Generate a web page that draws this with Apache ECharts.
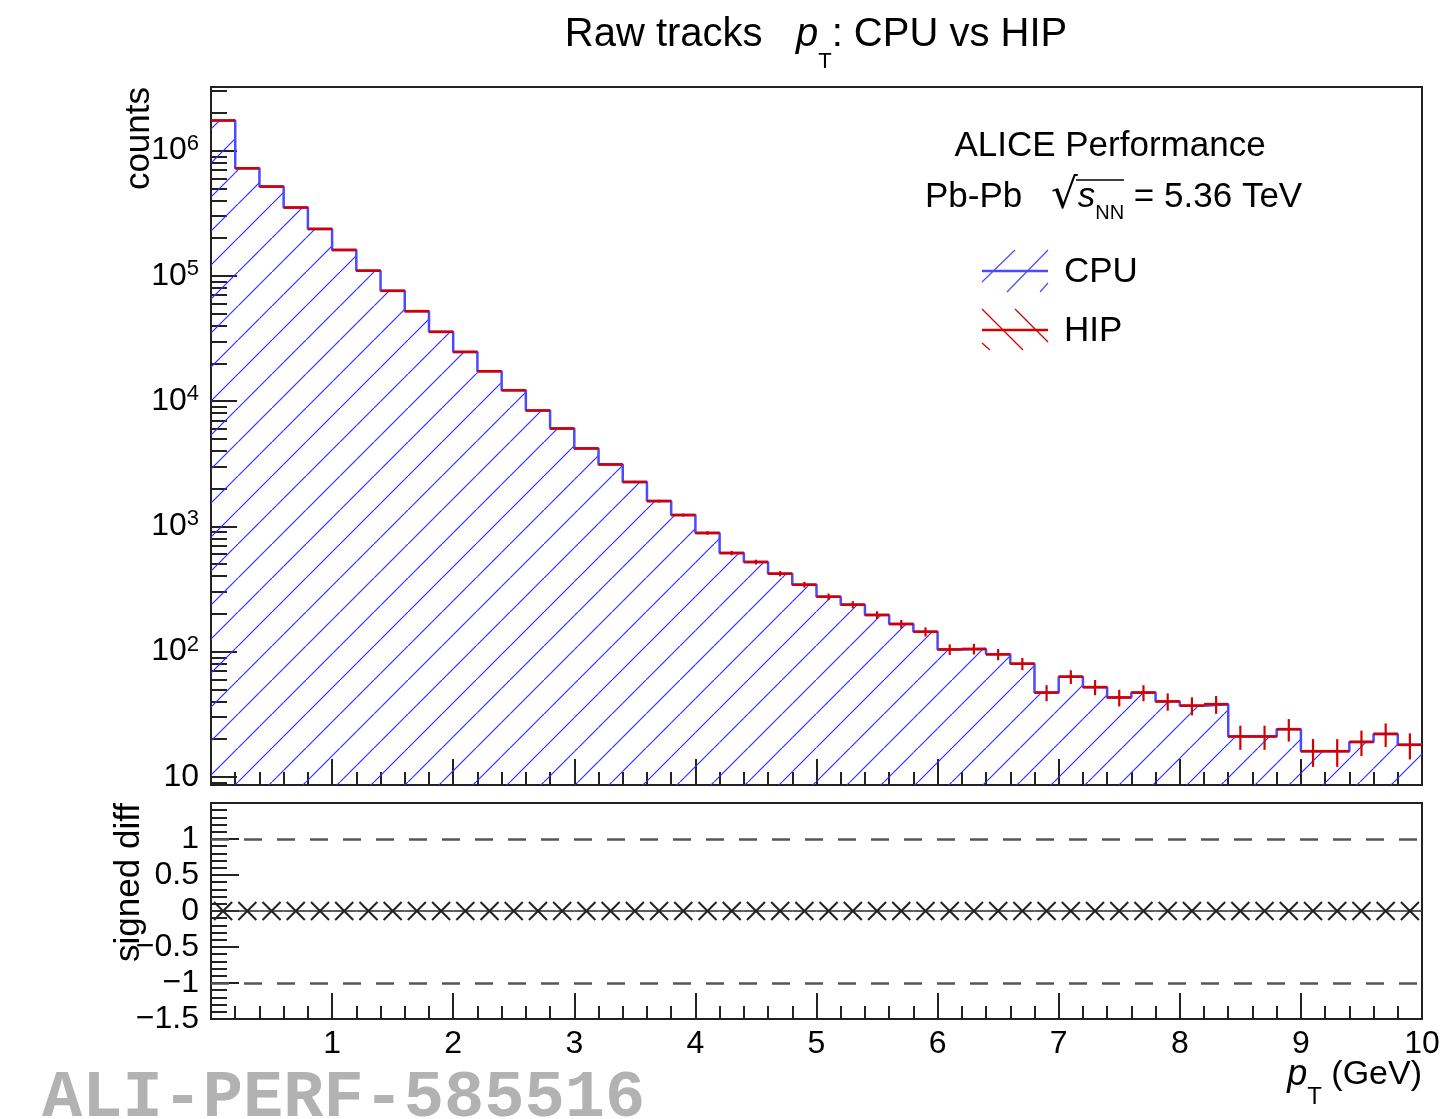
<!DOCTYPE html>
<html>
<head>
<meta charset="utf-8">
<title>Raw tracks pT: CPU vs HIP</title>
<script src="https://cdn.jsdelivr.net/npm/echarts@6.0.0/dist/echarts.min.js"></script>
<style>
html,body{margin:0;padding:0;background:#fff;}
#chart{width:1450px;height:1119px;}
</style>
</head>
<body>
<div id="chart"></div>
<script>
// ---------------- data ----------------
// bin edges in pT (GeV), 50 bins of 0.2 GeV
const binEdges = [0.0,0.2,0.4,0.6,0.8,1.0,1.2,1.4,1.6,1.8,2.0,2.2,2.4,2.6,2.8,3.0,3.2,3.4,3.6,3.8,
  4.0,4.2,4.4,4.6,4.8,5.0,5.2,5.4,5.6,5.8,6.0,6.2,6.4,6.6,6.8,7.0,7.2,7.4,7.6,7.8,
  8.0,8.2,8.4,8.6,8.8,9.0,9.2,9.4,9.6,9.8,10.0];
// CPU raw track counts per bin
const cpuCounts = [1740000,722000,516000,351000,237000,161000,110000,75900,52200,35700,
  24700,17300,12200,8410,6040,4190,3120,2260,1590,1230,
  885,612,519,419,342,274,237,196,166,144,
  104,105,95,80,47,63,52,43,47,40,
  37,38,21,21,24,16,16,19,22,18];
// HIP raw track counts per bin (identical to CPU)
const hipCounts = [1740000,722000,516000,351000,237000,161000,110000,75900,52200,35700,
  24700,17300,12200,8410,6040,4190,3120,2260,1590,1230,
  885,612,519,419,342,274,237,196,166,144,
  104,105,95,80,47,63,52,43,47,40,
  37,38,21,21,24,16,16,19,22,18];
// signed difference per bin
const signedDiff = [0,0,0,0,0,0,0,0,0,0,0,0,0,0,0,0,0,0,0,0,0,0,0,0,0,
  0,0,0,0,0,0,0,0,0,0,0,0,0,0,0,0,0,0,0,0,0,0,0,0,0];
// tick values / labels
const yMajorTicks = [10,100,1000,10000,100000,1000000];
const yMinorTicks = [9,20,30,40,50,60,70,80,90,200,300,400,500,600,700,800,900,
  2000,3000,4000,5000,6000,7000,8000,9000,20000,30000,40000,50000,60000,70000,80000,90000,
  200000,300000,400000,500000,600000,700000,800000,900000,2000000,3000000];
const diffRefLines = [1, -1];

// ---------------- styling ----------------
const FONT = '"Liberation Sans", Arial, Helvetica, sans-serif';
const Y_MIN = 8.6, Y_MAX = 3.22e6;
const AX = {color: '#222', width: 2};
const BLUE = '#4a4aff', RED = '#d40000';

function makeHatch(color, forward) {
  const s = 34;
  const c = document.createElement('canvas');
  c.width = s; c.height = s;
  const g = c.getContext('2d');
  g.strokeStyle = color; g.lineWidth = 1.2;
  g.beginPath();
  if (forward) { g.moveTo(-3, s + 3); g.lineTo(s + 3, -3); }
  else { g.moveTo(-3, -3); g.lineTo(s + 3, s + 3); }
  g.stroke();
  return c;
}
const cpuHatch = makeHatch('#2f2fff', true);

const cpuFillData = cpuCounts.map((v, i) => [binEdges[i], binEdges[i + 1], v]);
const cpuLineData = binEdges.map((e, i) => [e, cpuCounts[Math.min(i, cpuCounts.length - 1)]]);
// Poisson uncertainty of the HIP counts
const hipData = hipCounts.map((v, i) => [binEdges[i], binEdges[i + 1], v, Math.sqrt(v)]);
const diffData = signedDiff.map((v, i) => [binEdges[i], binEdges[i + 1], v]);

const chart = echarts.init(document.getElementById('chart'), null, {renderer: 'canvas', width: 1450, height: 1119});

function xAxisCfg(gridIndex, showLabels) {
  return {
    gridIndex: gridIndex, type: 'value', min: 0, max: 10, interval: 1,
    axisLine: {show: true, onZero: false, lineStyle: AX},
    axisTick: {show: true, inside: true, length: 26, lineStyle: AX},
    minorTick: {show: true, splitNumber: 5, length: 13, lineStyle: AX},
    splitLine: {show: false}, minorSplitLine: {show: false},
    axisLabel: {show: showLabels, fontSize: 32, color: '#000', fontFamily: FONT, margin: 9,
      formatter: v => (v === 0 ? '' : String(v))}
  };
}

const option = {
  animation: false,
  backgroundColor: '#fff',
  grid: [
    {left: 211, top: 87, width: 1211, height: 698, show: true, borderColor: '#222', borderWidth: 2,
     backgroundColor: 'transparent', containLabel: false, outerBoundsMode: 'none'},
    {left: 211, top: 803, width: 1211, height: 216, show: true, borderColor: '#222', borderWidth: 2,
     backgroundColor: 'transparent', containLabel: false, outerBoundsMode: 'none'}
  ],
  xAxis: [xAxisCfg(0, false), xAxisCfg(1, true)],
  yAxis: [
    {gridIndex: 0, type: 'log', logBase: 10, min: Y_MIN, max: Y_MAX, position: 'left',
     axisLine: {show: true, onZero: false, lineStyle: AX},
     axisTick: {show: true, inside: true, length: 26, lineStyle: AX, customValues: yMajorTicks},
     minorTick: {show: false}, splitLine: {show: false},
     axisLabel: {show: true, customValues: yMajorTicks, margin: 12, color: '#000',
       formatter: function (v) {
         const n = Math.round(Math.log10(v));
         return n === 1 ? '{b|10}' : '{b|10}{s|' + n + '}';
       },
       rich: {
         b: {fontSize: 32, lineHeight: 36, fontFamily: FONT, color: '#000'},
         s: {fontSize: 22, verticalAlign: 'top', fontFamily: FONT, color: '#000'}
       }}},
    {gridIndex: 0, type: 'log', logBase: 10, min: Y_MIN, max: Y_MAX, position: 'left',
     axisLine: {show: false, onZero: false},
     axisTick: {show: true, inside: true, length: 16, lineStyle: AX, customValues: yMinorTicks},
     axisLabel: {show: false}, splitLine: {show: false}},
    {gridIndex: 1, type: 'value', min: -1.5, max: 1.5, interval: 0.5, position: 'left',
     axisLine: {show: true, onZero: false, lineStyle: AX},
     axisTick: {show: true, inside: true, length: 28, lineStyle: AX},
     minorTick: {show: true, splitNumber: 5, length: 16, lineStyle: AX},
     splitLine: {show: false}, minorSplitLine: {show: false},
     axisLabel: {show: true, fontSize: 32, color: '#000', fontFamily: FONT, margin: 12,
       formatter: v => (v > 1.4 ? '' : (v < 0 ? '\u2212' + Math.abs(v) : String(v)))}}
  ],
  series: [
    {
      name: 'CPU fill', type: 'custom', xAxisIndex: 0, yAxisIndex: 0, clip: true, z: 1,
      data: cpuFillData, encode: {x: [0, 1], y: 2},
      renderItem: function (params, api) {
        const p0 = api.coord([api.value(0), api.value(2)]);
        const p1 = api.coord([api.value(1), Y_MIN]);
        return {type: 'rect', shape: {x: p0[0], y: p0[1], width: p1[0] - p0[0], height: p1[1] - p0[1]},
          style: {fill: {image: cpuHatch, repeat: 'repeat'}, stroke: null}};
      }
    },
    {
      name: 'CPU', type: 'line', xAxisIndex: 0, yAxisIndex: 0, step: 'end', z: 2,
      showSymbol: false, symbol: 'none', clip: true,
      data: cpuLineData,
      lineStyle: {color: BLUE, width: 2.5}
    },
    {
      name: 'HIP', type: 'custom', xAxisIndex: 0, yAxisIndex: 0, clip: true, z: 3,
      data: hipData, encode: {x: [0, 1], y: 2},
      renderItem: function (params, api) {
        const x0 = api.value(0), x1 = api.value(1), v = api.value(2), e = api.value(3);
        const a = api.coord([x0, v]), b = api.coord([x1, v]);
        const xc = (x0 + x1) / 2;
        const lo = api.coord([xc, Math.max(v - e, Y_MIN)]), hi = api.coord([xc, v + e]);
        return {type: 'group', children: [
          {type: 'line', shape: {x1: a[0], y1: a[1], x2: b[0], y2: b[1]}, style: {stroke: RED, lineWidth: 2.6}},
          {type: 'line', shape: {x1: lo[0], y1: lo[1], x2: hi[0], y2: hi[1]}, style: {stroke: RED, lineWidth: 2.2}}
        ]};
      }
    },
    {
      name: 'signed diff', type: 'custom', xAxisIndex: 1, yAxisIndex: 2, clip: true, z: 3,
      data: diffData, encode: {x: [0, 1], y: 2},
      renderItem: function (params, api) {
        const x0 = api.value(0), x1 = api.value(1), v = api.value(2);
        const a = api.coord([x0, v]), b = api.coord([x1, v]);
        const c = api.coord([(x0 + x1) / 2, v]);
        const dx = 9, dy = 9;
        return {type: 'group', children: [
          {type: 'line', shape: {x1: a[0], y1: a[1], x2: b[0], y2: b[1]}, style: {stroke: '#333', lineWidth: 1.6}},
          {type: 'line', shape: {x1: c[0] - dx, y1: c[1] - dy, x2: c[0] + dx, y2: c[1] + dy}, style: {stroke: '#222', lineWidth: 2}},
          {type: 'line', shape: {x1: c[0] - dx, y1: c[1] + dy, x2: c[0] + dx, y2: c[1] - dy}, style: {stroke: '#222', lineWidth: 2}}
        ]};
      },
      markLine: {
        silent: true, symbol: 'none', label: {show: false},
        lineStyle: {color: '#555', type: [18, 15], width: 2.5},
        data: diffRefLines.map(y => ({yAxis: y}))
      }
    }
  ],
  graphic: [
    // title
    {type: 'text', x: 816, y: 35, z: 10, style: {
      text: 'Raw tracks   {i|p}{sub|T}: CPU vs HIP', fontSize: 40, fontFamily: FONT, fill: '#000',
      align: 'center', verticalAlign: 'middle',
      rich: {i: {fontSize: 40, fontStyle: 'italic', fontFamily: FONT, fill: '#000'},
             sub: {fontSize: 22, lineHeight: 76, verticalAlign: 'bottom', fontFamily: FONT, fill: '#000'}}}},
    // axis titles
    {type: 'text', x: 139, y: 87, rotation: Math.PI / 2, z: 10, style: {
      text: 'counts', fontSize: 35, fontFamily: FONT, fill: '#000', align: 'right', verticalAlign: 'middle'}},
    {type: 'text', x: 129, y: 803, rotation: Math.PI / 2, z: 10, style: {
      text: 'signed diff', fontSize: 35, fontFamily: FONT, fill: '#000', align: 'right', verticalAlign: 'middle'}},
    {type: 'text', x: 1422, y: 1075, z: 10, style: {
      text: '{i|p}{sub|T} (GeV)', fontSize: 34, fontFamily: FONT, fill: '#000', align: 'right', verticalAlign: 'middle',
      rich: {i: {fontSize: 36, fontStyle: 'italic', fontFamily: FONT, fill: '#000'},
             sub: {fontSize: 24, lineHeight: 68, verticalAlign: 'bottom', fontFamily: FONT, fill: '#000'}}}},
    // ALICE labels
    {type: 'text', x: 1110, y: 146, z: 10, style: {
      text: 'ALICE Performance', fontSize: 35, fontFamily: FONT, fill: '#000', align: 'center', verticalAlign: 'middle'}},
    {type: 'text', x: 925, y: 197.5, z: 10, style: {
      text: 'Pb-Pb', fontSize: 35, fontFamily: FONT, fill: '#000', align: 'left', verticalAlign: 'middle'}},
    {type: 'text', x: 1051, y: 197.5, z: 10, style: {
      text: '{r|\u221A}{si|s}{sub|NN} = 5.36 TeV', fontSize: 35, fontFamily: FONT, fill: '#000', align: 'left', verticalAlign: 'middle',
      rich: {r: {fontSize: 42, fontFamily: '"DejaVu Sans", sans-serif', fill: '#000'},
             si: {fontSize: 35, fontStyle: 'italic', fontFamily: FONT, fill: '#000'},
             sub: {fontSize: 20, lineHeight: 51, verticalAlign: 'bottom', fontFamily: FONT, fill: '#000'}}}},
    {type: 'line', z: 10, shape: {x1: 1076, y1: 180, x2: 1124, y2: 180}, style: {stroke: '#000', lineWidth: 1.6}},
    // legend CPU
    {type: 'line', z: 10, shape: {x1: 982, y1: 282, x2: 1015, y2: 250}, style: {stroke: BLUE, lineWidth: 1.2}},
    {type: 'line', z: 10, shape: {x1: 1007, y1: 292, x2: 1048, y2: 250}, style: {stroke: BLUE, lineWidth: 1.2}},
    {type: 'line', z: 10, shape: {x1: 1040, y1: 292, x2: 1048, y2: 283}, style: {stroke: BLUE, lineWidth: 1.2}},
    {type: 'line', z: 10, shape: {x1: 982, y1: 271, x2: 1048, y2: 271}, style: {stroke: BLUE, lineWidth: 2.5}},
    {type: 'text', x: 1064, y: 272, z: 10, style: {
      text: 'CPU', fontSize: 35, fontFamily: FONT, fill: '#000', align: 'left', verticalAlign: 'middle'}},
    // legend HIP
    {type: 'line', z: 10, shape: {x1: 982, y1: 309, x2: 1023, y2: 350}, style: {stroke: RED, lineWidth: 1.2}},
    {type: 'line', z: 10, shape: {x1: 1015, y1: 309, x2: 1048, y2: 342}, style: {stroke: RED, lineWidth: 1.2}},
    {type: 'line', z: 10, shape: {x1: 982, y1: 343, x2: 990, y2: 350}, style: {stroke: RED, lineWidth: 1.2}},
    {type: 'line', z: 10, shape: {x1: 982, y1: 330, x2: 1048, y2: 330}, style: {stroke: RED, lineWidth: 2.5}},
    {type: 'text', x: 1064, y: 331, z: 10, style: {
      text: 'HIP', fontSize: 35, fontFamily: FONT, fill: '#000', align: 'left', verticalAlign: 'middle'}},
    // figure id
    {type: 'text', x: 42, y: 1099, z: 10, style: {
      text: 'ALI-PERF-585516', fontSize: 67, fontWeight: 'bold', fontFamily: '"Liberation Mono", "DejaVu Sans Mono", monospace',
      fill: '#b2b2b2', align: 'left', verticalAlign: 'middle'}}
  ]
};
chart.setOption(option);
</script>
</body>
</html>
